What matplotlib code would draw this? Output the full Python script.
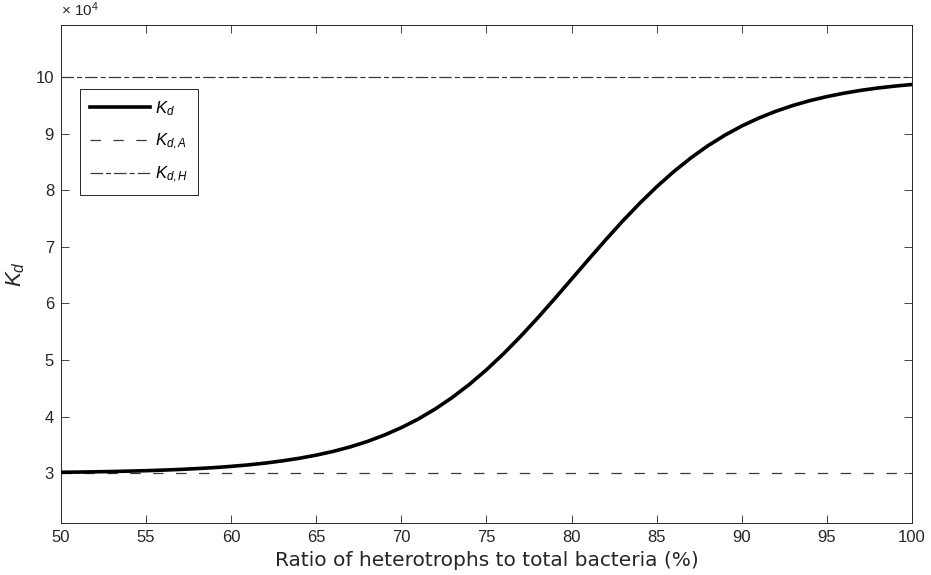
import numpy as np
import matplotlib as mpl
import matplotlib.pyplot as plt

mpl.rcParams['mathtext.fontset'] = 'custom'
mpl.rcParams['mathtext.rm'] = 'Liberation Sans'
mpl.rcParams['mathtext.it'] = 'Liberation Sans:italic'
mpl.rcParams['font.family'] = 'Liberation Sans'
mpl.rcParams['lines.scale_dashes'] = False

# ratio of heterotrophs (%) and K_d
ratio = list(range(50, 101))
kd = [30170, 30200, 30250, 30300, 30370, 30450, 30550, 30670, 30820, 30990,
      31210, 31470, 31790, 32180, 32640, 33200, 33860, 34660, 35610, 36740,
      38060, 39590, 41370, 43410, 45710, 48280, 51110, 54170, 57420, 60820,
      64300, 67790, 71230, 74560, 77690, 80620, 83290, 85700, 87850, 89720,
      91360, 92760, 93960, 94980, 95840, 96550, 97150, 97660, 98070, 98410,
      98690]
kd_a = 30000
kd_h = 100000

scale = 1e4
ink = "#262626"

fig = plt.figure(figsize=[9.31, 5.75], dpi=100)
ax = fig.add_axes([0.0655, 0.0904, 0.9141, 0.8661])

ax.plot(ratio, np.array(kd) / scale, color="black", linewidth=2.6, label=r"$K_d$", zorder=4)
ax.axhline(kd_a / scale, color="#3a3a3a", linewidth=0.9, dashes=(7.5, 9), label=r"$K_{d,A}$")
ax.axhline(kd_h / scale, color="#3a3a3a", linewidth=0.9, dashes=(9, 2.2, 3.6, 2.2), label=r"$K_{d,H}$")

# axes settings
ax.set_xlim([50, 100])
ax.set_ylim([2.12, 10.92])
ax.set_xticks(np.arange(50, 101, 5))
ax.set_yticks(np.arange(3, 11, 1))
ax.tick_params(direction="in", length=6, width=0.6, top=True, right=True,
               labelsize=12, colors=ink, pad=5)
for s in ax.spines.values():
    s.set_color(ink)
    s.set_linewidth(0.7)

ax.set_xlabel("Ratio of heterotrophs to total bacteria (%)", fontsize=14.5,
              family="DejaVu Sans", color=ink, labelpad=4)
ax.set_ylabel(r"$K_d$", fontsize=16, color=ink, labelpad=6)
ax.text(0.0, 1.012, r"$\times$ 10$^4$", transform=ax.transAxes, fontsize=11,
        color=ink, ha="left", va="bottom")

leg = ax.legend(loc="upper left", bbox_to_anchor=(0.0223, 0.871), fontsize=12,
                handlelength=3.6, handletextpad=0.3, labelspacing=0.8,
                borderpad=0.6, borderaxespad=0, fancybox=False, framealpha=1)
leg.get_frame().set_edgecolor(ink)
leg.get_frame().set_linewidth(0.7)

plt.savefig("out.png", dpi=100)
plt.close("all")
